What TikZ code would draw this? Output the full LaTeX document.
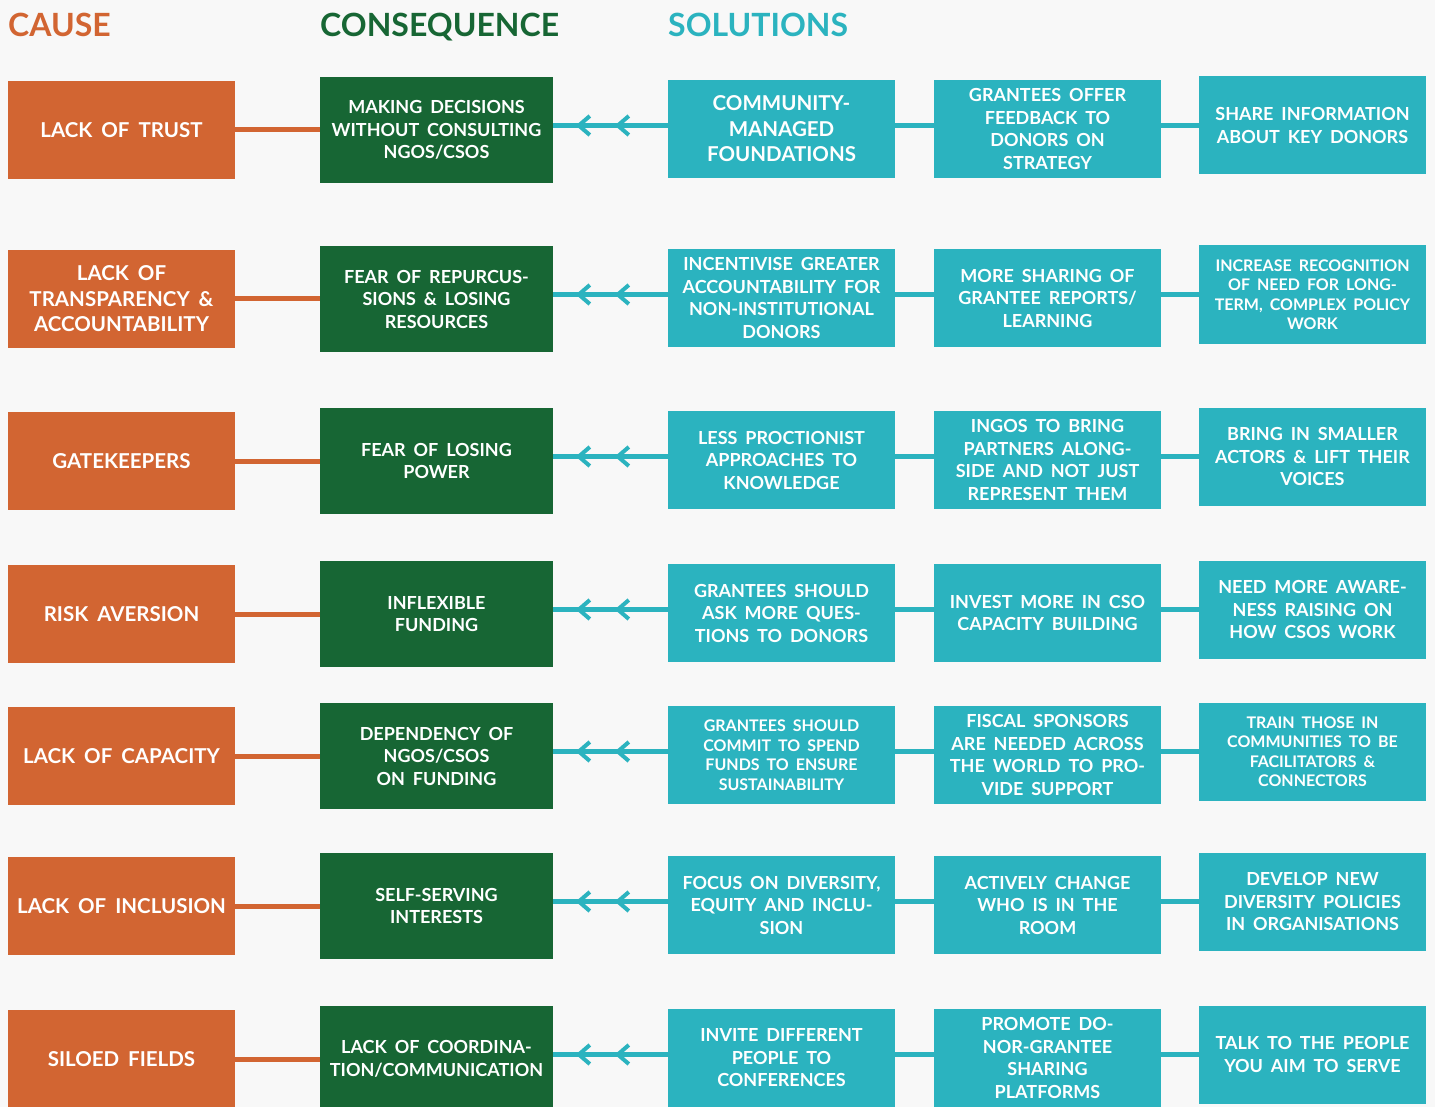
\documentclass[tikz,border=0pt]{standalone}
\usepackage{fontspec}
\setmainfont{Lato}
\newfontfamily\boxfont[WordSpace=1.8]{Lato}
\usepackage{tikz}
\usetikzlibrary{decorations.markings}

\definecolor{causecol}{RGB}{210,101,50}
\definecolor{conscol}{RGB}{23,102,52}
\definecolor{solcol}{RGB}{43,179,191}
\definecolor{bgcol}{RGB}{248,248,248}

\tikzset{
  box/.style={inner sep=0pt, align=center, text=white,
    font=\boxfont\bfseries\fontsize{18}{22.5}\selectfont},
  bigtxt/.style={font=\boxfont\bfseries\fontsize{20.5}{25.5}\selectfont},
  smalltxt/.style={font=\boxfont\bfseries\fontsize{16}{19.5}\selectfont},
  causebox/.style={box, bigtxt, fill=causecol, minimum width=227pt, minimum height=98pt},
  consbox/.style={box, fill=conscol, minimum width=233pt, minimum height=106pt},
  solbox/.style={box, fill=solcol, minimum width=227pt, minimum height=98pt},
  title/.style={anchor=base west, inner sep=0pt, font=\bfseries\fontsize{32}{38}\selectfont},
  causeline/.style={draw=causecol, line width=5pt},
  solline/.style={draw=solcol, line width=5pt},
  chevron/.style={draw=solcol, line width=4pt, line join=miter},
  chevrons/.style={postaction={decorate}, decoration={markings,
    mark=at position 50pt with {\draw[chevron] (-11pt,9.5pt) -- (0pt,0pt) -- (-11pt,-9.5pt);},
    mark=at position 89pt with {\draw[chevron] (-11pt,9.5pt) -- (0pt,0pt) -- (-11pt,-9.5pt);}}}
}

\begin{document}
\begin{tikzpicture}[x=1pt, y=-1pt]

  \newcommand\XCAUSE{121.5}
  \newcommand\XCONS{436.5}
  \newcommand\XSOLA{781.5}
  \newcommand\XSOLB{1047.5}
  \newcommand\XSOLC{1312.5}

  \newcommand\ROWA{130}
  \newcommand\ROWB{299}
  \newcommand\ROWC{461}
  \newcommand\ROWD{614}
  \newcommand\ROWE{756}
  \newcommand\ROWF{906}
  \newcommand\ROWG{1059}

  \useasboundingbox (0,0) rectangle (1435,1107);
  \clip (0,0) rectangle (1435,1107);
  \fill[bgcol] (0,0) rectangle (1435,1107);

  % column heads
  \node[title, text=causecol] (headCause) at (8,37) {CAUSE};
  \node[title, text=conscol] (headCons) at (320,37) {CONSEQUENCE};
  \node[title, text=solcol] (headSol) at (668,37) {SOLUTIONS};

  % row A
  \node[causebox] (causeA) at (\XCAUSE, \ROWA) {LACK OF TRUST};
  \node[consbox] (consA) at (\XCONS, \ROWA) {MAKING DECISIONS\\WITHOUT CONSULTING\\NGOS/CSOS};
  \node[solbox, bigtxt] (solA1) at (\XSOLA, \ROWA-1) {COMMUNITY-\\MANAGED\\FOUNDATIONS};
  \node[solbox] (solA2) at (\XSOLB, \ROWA-1) {GRANTEES OFFER\\FEEDBACK TO\\DONORS ON\\STRATEGY};
  \node[solbox] (solA3) at (\XSOLC, \ROWA-4.5) {SHARE INFORMATION\\ABOUT KEY DONORS};

  % row B
  \node[causebox] (causeB) at (\XCAUSE, \ROWB) {LACK OF\\TRANSPARENCY \&\\ACCOUNTABILITY};
  \node[consbox] (consB) at (\XCONS, \ROWB) {FEAR OF REPURCUS-\\SIONS \& LOSING\\RESOURCES};
  \node[solbox] (solB1) at (\XSOLA, \ROWB-1) {INCENTIVISE GREATER\\ACCOUNTABILITY FOR\\NON-INSTITUTIONAL\\DONORS};
  \node[solbox] (solB2) at (\XSOLB, \ROWB-1) {MORE SHARING OF\\GRANTEE REPORTS/\\LEARNING};
  \node[solbox, smalltxt] (solB3) at (\XSOLC, \ROWB-4.5) {INCREASE RECOGNITION\\OF NEED FOR LONG-\\TERM, COMPLEX POLICY\\WORK};

  % row C
  \node[causebox] (causeC) at (\XCAUSE, \ROWC) {GATEKEEPERS};
  \node[consbox] (consC) at (\XCONS, \ROWC) {FEAR OF LOSING\\POWER};
  \node[solbox] (solC1) at (\XSOLA, \ROWC-1) {LESS PROCTIONIST\\APPROACHES TO\\KNOWLEDGE};
  \node[solbox] (solC2) at (\XSOLB, \ROWC-1) {INGOS TO BRING\\PARTNERS ALONG-\\SIDE AND NOT JUST\\REPRESENT THEM};
  \node[solbox] (solC3) at (\XSOLC, \ROWC-4.5) {BRING IN SMALLER\\ACTORS \& LIFT THEIR\\VOICES};

  % row D
  \node[causebox] (causeD) at (\XCAUSE, \ROWD) {RISK AVERSION};
  \node[consbox] (consD) at (\XCONS, \ROWD) {INFLEXIBLE\\FUNDING};
  \node[solbox] (solD1) at (\XSOLA, \ROWD-1) {GRANTEES SHOULD\\ASK MORE QUES-\\TIONS TO DONORS};
  \node[solbox] (solD2) at (\XSOLB, \ROWD-1) {INVEST MORE IN CSO\\CAPACITY BUILDING};
  \node[solbox] (solD3) at (\XSOLC, \ROWD-4.5) {NEED MORE AWARE-\\NESS RAISING ON\\HOW CSOS WORK};

  % row E
  \node[causebox] (causeE) at (\XCAUSE, \ROWE) {LACK OF CAPACITY};
  \node[consbox] (consE) at (\XCONS, \ROWE) {DEPENDENCY OF\\NGOS/CSOS\\ON FUNDING};
  \node[solbox, smalltxt] (solE1) at (\XSOLA, \ROWE-1) {GRANTEES SHOULD\\COMMIT TO SPEND\\FUNDS TO ENSURE\\SUSTAINABILITY};
  \node[solbox] (solE2) at (\XSOLB, \ROWE-1) {FISCAL SPONSORS\\ARE NEEDED ACROSS\\THE WORLD TO PRO-\\VIDE SUPPORT};
  \node[solbox, smalltxt] (solE3) at (\XSOLC, \ROWE-4.5) {TRAIN THOSE IN\\COMMUNITIES TO BE\\FACILITATORS \&\\CONNECTORS};

  % row F
  \node[causebox] (causeF) at (\XCAUSE, \ROWF) {LACK OF INCLUSION};
  \node[consbox] (consF) at (\XCONS, \ROWF) {SELF-SERVING\\INTERESTS};
  \node[solbox] (solF1) at (\XSOLA, \ROWF-1) {FOCUS ON DIVERSITY,\\EQUITY AND INCLU-\\SION};
  \node[solbox] (solF2) at (\XSOLB, \ROWF-1) {ACTIVELY CHANGE\\WHO IS IN THE\\ROOM};
  \node[solbox] (solF3) at (\XSOLC, \ROWF-4.5) {DEVELOP NEW\\DIVERSITY POLICIES\\IN ORGANISATIONS};

  % row G
  \node[causebox] (causeG) at (\XCAUSE, \ROWG) {SILOED FIELDS};
  \node[consbox] (consG) at (\XCONS, \ROWG) {LACK OF COORDINA-\\TION/COMMUNICATION};
  \node[solbox] (solG1) at (\XSOLA, \ROWG-1) {INVITE DIFFERENT\\PEOPLE TO\\CONFERENCES};
  \node[solbox] (solG2) at (\XSOLB, \ROWG-1) {PROMOTE DO-\\NOR-GRANTEE\\SHARING\\PLATFORMS};
  \node[solbox] (solG3) at (\XSOLC, \ROWG-4.5) {TALK TO THE PEOPLE\\YOU AIM TO SERVE};

  % connectors
  \foreach \r in {A,B,C,D,E,F,G}{
    \draw[causeline] (cause\r) -- (cons\r);
    \draw[solline, chevrons] (sol\r1.west |- sol\r3) -- (cons\r.east |- sol\r3);
    \draw[solline] (sol\r1.east |- sol\r3) -- (sol\r2.west |- sol\r3);
    \draw[solline] (sol\r2.east |- sol\r3) -- (sol\r3.west);
  }

\end{tikzpicture}
\end{document}
